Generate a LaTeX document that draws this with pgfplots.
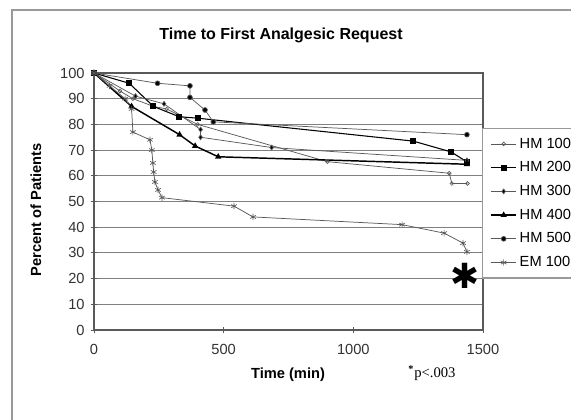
\documentclass[border=0pt]{standalone}
\usepackage{pgfplots}
\pgfplotsset{compat=1.18}
\usepackage{fontspec}
\setmainfont{Liberation Sans}
\newfontfamily\serifA{Liberation Serif}
\newfontfamily\djv{DejaVu Sans}
\definecolor{gridc}{gray}{0.5}
\definecolor{linec}{gray}{0.35}
\begin{document}
\begin{tikzpicture}
\useasboundingbox (0,0) rectangle (428.25pt,314.25pt);
\clip (0,0) rectangle (428.25pt,314.25pt);
\draw[gray!80, line width=0.9pt] (9pt,306.75pt) rectangle (450pt,-20pt);
\node[font=\fontsize{12}{14}\selectfont\bfseries] at (210.75pt,287.5pt) {Time to First Analgesic Request};
\node[font=\fontsize{11}{13}\selectfont\bfseries, rotate=90] at (27pt,156.75pt) {Percent of Patients};
\node[font=\fontsize{11}{13}\selectfont\bfseries] at (216pt,33pt) {Time (min)};
\node[font=\fontsize{11}{13}\serifA] at (324pt,34.5pt) {\textsuperscript{\textbf{*}}p<.003};
\begin{axis}[
  at={(70.5pt,66.75pt)}, anchor=south west,
  scale only axis, width=291.75pt, height=192.75pt,
  xmin=0, xmax=1500, ymin=0, ymax=100,
  xtick={0,500,1000,1500}, ytick={0,10,...,100},
  ymajorgrids, grid style={gridc, line width=0.8pt},
  axis line style={gray!70!black, line width=0.8pt},
  tick align=center, xtick pos=bottom, ytick pos=left,
  major tick length=5pt, tick style={gray!70!black, line width=0.7pt},
  ticklabel style={font=\fontsize{11}{13}\selectfont, text=black!80},
  /pgf/number format/assume math mode=true,
  /pgf/number format/1000 sep={},
  xticklabel style={yshift=-5pt},
  yticklabel style={xshift=-1pt},
  legend style={at={(axis description cs:0.9967,0.786)}, anchor=north west,
    draw=gray!80, line width=0.8pt, font=\fontsize{11}{13}\selectfont,
    row sep=4.6pt, inner xsep=6pt, inner ysep=5pt},
  legend cell align=left,
  legend image code/.code={\draw[#1] (0pt,0pt) -- (19pt,0pt); \draw[#1, mark repeat=2, mark phase=2] plot coordinates {(0pt,0pt) (9.5pt,0pt) (19pt,0pt)};},
]
\addplot[linec, line width=0.55pt, mark=o, mark size=1.4pt, mark options={fill=white, line width=0.5pt}] coordinates {
(0,100) (100,93) (150,90) (230,87) (280,86) (400,80) (900,65.5) (1370,61) (1380,57) (1440,57)};
\addlegendentry{HM 100}
\addplot[black, line width=0.8pt, mark=square*, mark size=1.8pt] coordinates {
(0,100) (136,96) (229,87) (328,83) (402,82.4) (1231,73.5) (1377,69.3) (1438,65.4)};
\addlegendentry{HM 200}
\addplot[linec, line width=0.55pt, mark=diamond*, mark size=1.8pt, mark options={fill=black}] coordinates {
(0,100) (160,91) (270,88) (411,78) (411,75) (685,71) (1438,66)};
\addlegendentry{HM 300}
\addplot[black, line width=1.1pt, mark=triangle*, mark size=1.7pt] coordinates {
(0,100) (145,87) (330,76) (390,71.6) (479,67.4) (1438,64.5)};
\addlegendentry{HM 400}
\addplot[linec, line width=0.55pt, mark=*, mark size=1.8pt, mark options={fill=black}] coordinates {
(0,100) (245,96) (370,95) (370,90.5) (428,85.6) (460,81) (1438,76)};
\addlegendentry{HM 500}
\addplot[linec, line width=0.55pt, mark=asterisk, mark size=2.4pt, mark options={line width=0.5pt}] coordinates {
(0,100) (60,95) (120,90) (145,86) (150,77) (216,74) (223,70) (227,65) (230,61.5) (235,57.6) (247,54.5) (262,51.5) (540,48.2) (613,44) (1188,41) (1350,37.7) (1423,33.8) (1438,30.4)};
\addlegendentry{EM 100}
\node[font=\fontsize{26}{26}\djv] at (axis cs:1430,21) {✱};
\end{axis}
\end{tikzpicture}
\end{document}
